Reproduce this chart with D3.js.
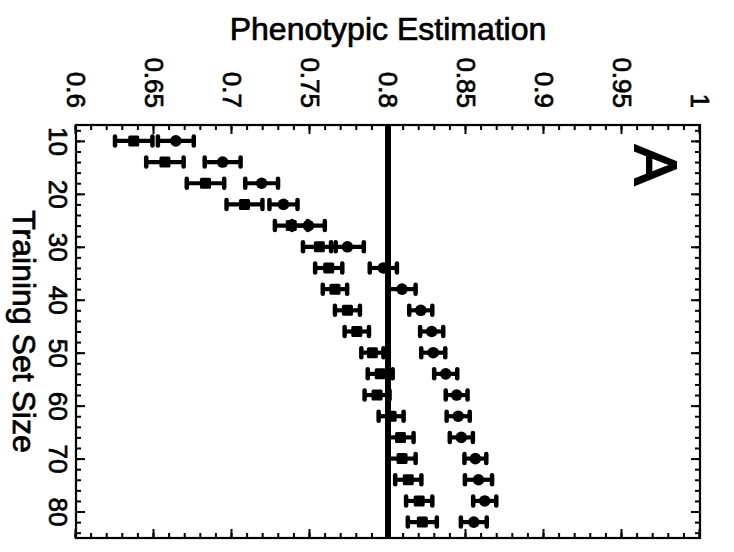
<!DOCTYPE html>
<html>
<head>
<meta charset="utf-8">
<script src="https://cdn.jsdelivr.net/npm/d3@7"></script>
<style>
  body { margin: 0; background: #fff; }
  text { font-family: Arial, "Liberation Sans", Helvetica, sans-serif; fill: #000; stroke: #000; stroke-width: 0.7px; }
</style>
</head>
<body>
<svg></svg>
<script>
// training set sizes (one row of bars per size)
let sizes = [10, 14, 18, 22, 26, 30, 34, 38, 42, 46, 50, 54, 58, 62, 66, 70, 74, 78, 82]

// lower series (squares) - mean and half width of the error bar
let lowMean = [0.637, 0.657, 0.683, 0.708, 0.738, 0.756, 0.762, 0.766, 0.774, 0.780,
               0.790, 0.795, 0.793, 0.802, 0.808, 0.809, 0.813, 0.820, 0.822]
let lowErr  = [0.012, 0.012, 0.012, 0.0115, 0.0105, 0.0105, 0.0087, 0.0078, 0.008, 0.0078,
               0.0071, 0.008, 0.008, 0.008, 0.0084, 0.0087, 0.0084, 0.0084, 0.0093]

// upper series (circles)
let highMean = [0.664, 0.694, 0.719, 0.733, 0.749, 0.774, 0.797, 0.809, 0.821, 0.828,
                0.829, 0.837, 0.844, 0.845, 0.847, 0.856, 0.858, 0.862, 0.855]
let highErr  = [0.0115, 0.0115, 0.0105, 0.009, 0.0105, 0.0105, 0.0087, 0.0087, 0.0074, 0.0074,
                0.0077, 0.0074, 0.007, 0.0074, 0.0074, 0.007, 0.0087, 0.0074, 0.0083]

let referenceValue = 0.8

// axis ticks and labels
let sizeTicks = [10, 20, 30, 40, 50, 60, 70, 80]
let sizeMinorTicks = d3.range(8, 86, 2)
let valueTicks = [0.6, 0.65, 0.7, 0.75, 0.8, 0.85, 0.9, 0.95, 1]
let valueTickLabels = ["0.6", "0.65", "0.7", "0.75", "0.8", "0.85", "0.9", "0.95", "1"]
let valueMinorTicks = d3.range(60, 101, 1).map(d => d / 100)

let width = 734
let height = 552
// the figure is drawn upright and then turned a quarter clockwise
let plotW = 413   // along training set size
let plotH = 624   // along phenotypic estimation
let originX = 700
let originY = 125

let svg = d3.select("svg")
let g
let xScale
let yScale

let drawCanvas = function() {
  svg.attr("width", width).attr("height", height)
  g = svg.append("g")
         .attr("transform", "translate(" + originX + "," + originY + ") rotate(90)")
}

let generateScales = function() {
  xScale = d3.scaleLinear().domain([7, 85]).range([0, plotW])
  yScale = d3.scaleLinear().domain([0.6, 1]).range([plotH, 0])
}

let styleAxis = function(sel) {
  sel.select(".domain").remove()
  sel.selectAll(".tick line").attr("stroke", "#000").attr("stroke-width", 2)
}

let generateAxis = function() {
  // minor ticks on all four sides, pointing inward
  g.append("g").attr("transform", "translate(0," + plotH + ")")
   .call(d3.axisBottom(xScale).tickValues(sizeMinorTicks).tickSize(-5).tickFormat(""))
   .call(styleAxis)
  g.append("g")
   .call(d3.axisTop(xScale).tickValues(sizeMinorTicks).tickSize(-5).tickFormat(""))
   .call(styleAxis)
  g.append("g")
   .call(d3.axisLeft(yScale).tickValues(valueMinorTicks).tickSize(-5).tickFormat(""))
   .call(styleAxis)
  g.append("g").attr("transform", "translate(" + plotW + ",0)")
   .call(d3.axisRight(yScale).tickValues(valueMinorTicks).tickSize(-5).tickFormat(""))
   .call(styleAxis)

  // major ticks with labels
  let xAxis = g.append("g").attr("transform", "translate(0," + plotH + ")")
   .call(d3.axisBottom(xScale).tickValues(sizeTicks).tickSize(-9).tickPadding(9).tickFormat(d3.format("d")))
   .call(styleAxis)
  xAxis.selectAll("text").attr("font-size", 26).attr("font-family", null)

  g.append("g")
   .call(d3.axisTop(xScale).tickValues(sizeTicks).tickSize(-9).tickFormat(""))
   .call(styleAxis)

  let yAxis = g.append("g")
   .call(d3.axisLeft(yScale).tickValues(valueTicks).tickSize(-9).tickPadding(17)
           .tickFormat((d, i) => valueTickLabels[i]))
   .call(styleAxis)
  yAxis.selectAll("text").attr("font-size", 26).attr("font-family", null)

  g.append("g").attr("transform", "translate(" + plotW + ",0)")
   .call(d3.axisRight(yScale).tickValues(valueTicks).tickSize(-9).tickFormat(""))
   .call(styleAxis)

  // frame
  g.append("rect")
   .attr("width", plotW).attr("height", plotH)
   .attr("fill", "none").attr("stroke", "#000").attr("stroke-width", 2.2)

  // axis titles
  g.append("text")
   .attr("x", plotW / 2).attr("y", plotH + 63)
   .attr("text-anchor", "middle").attr("font-size", 32)
   .text("Training Set Size")

  svg.append("text")
     .attr("x", originX - plotH / 2).attr("y", 40)
     .attr("text-anchor", "middle").attr("font-size", 32)
     .text("Phenotypic Estimation")

  // panel letter
  g.append("text")
   .attr("x", 20).attr("y", 65)
   .attr("font-size", 60)
   .style("stroke-width", "2px")
   .text("A")
}

let drawReference = function() {
  g.append("line")
   .attr("x1", 0).attr("x2", plotW)
   .attr("y1", yScale(referenceValue)).attr("y2", yScale(referenceValue))
   .attr("stroke", "#000").attr("stroke-width", 6)
}

let drawSeries = function(means, errs, marker) {
  let rows = sizes.map((s, i) => ({ size: s, mean: means[i], err: errs[i] }))
  let grp = g.append("g")
  let bars = grp.selectAll("g").data(rows).enter().append("g")

  bars.append("line")
      .attr("x1", d => xScale(d.size)).attr("x2", d => xScale(d.size))
      .attr("y1", d => yScale(d.mean - d.err)).attr("y2", d => yScale(d.mean + d.err))
      .attr("stroke", "#000").attr("stroke-width", 4.2)

  // caps
  ;[-1, 1].forEach(sign => {
    bars.append("line")
        .attr("x1", d => xScale(d.size) - 4.5).attr("x2", d => xScale(d.size) + 4.5)
        .attr("y1", d => yScale(d.mean + sign * d.err)).attr("y2", d => yScale(d.mean + sign * d.err))
        .attr("stroke", "#000").attr("stroke-width", 4.5).attr("stroke-linecap", "round")
  })

  if (marker === "square") {
    bars.append("rect")
        .attr("x", d => xScale(d.size) - 5.5).attr("y", d => yScale(d.mean) - 5.5)
        .attr("width", 11).attr("height", 11).attr("rx", 1.5)
        .attr("fill", "#000")
  } else {
    bars.append("circle")
        .attr("cx", d => xScale(d.size)).attr("cy", d => yScale(d.mean))
        .attr("r", 5.8)
        .attr("fill", "#000")
  }
}

drawCanvas()
generateScales()
drawReference()
drawSeries(lowMean, lowErr, "square")
drawSeries(highMean, highErr, "circle")
generateAxis()
</script>
</body>
</html>
